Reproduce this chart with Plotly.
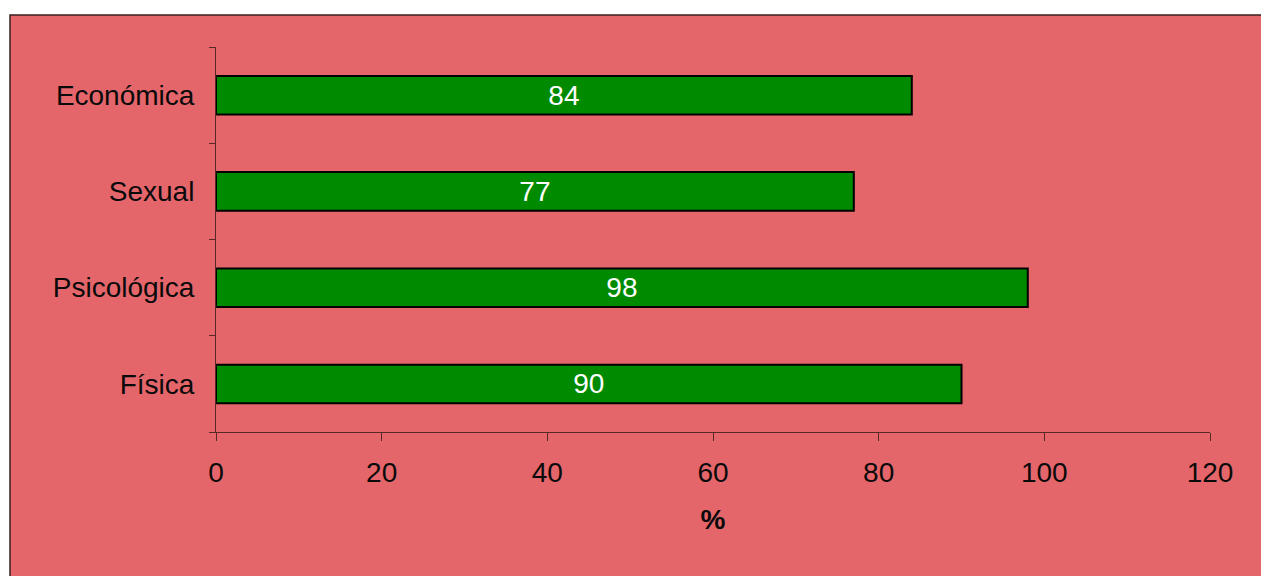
import plotly.graph_objects as go

# Porcentaje por tipo de violencia
categorias = ["Física", "Psicológica", "Sexual", "Económica"]
valores = [90, 98, 77, 84]
ticks_x = [0, 20, 40, 60, 80, 100, 120]

W, H = 1261, 576
L, R, T, B = 216, 51, 47, 144
pw, ph = W - L - R, H - T - B

fondo = "#E5666A"
eje = "#5A2626"
fuente = "Arial, Liberation Sans"
tam = 28

fig = go.Figure(
    go.Bar(
        x=valores,
        y=categorias,
        orientation="h",
        width=0.4,
        marker=dict(color="#008A00", line=dict(color="#000000", width=2)),
        text=[str(v) for v in valores],
        textposition="inside",
        insidetextanchor="middle",
        textfont=dict(family=fuente, size=tam, color="#FFFFFF"),
        hoverinfo="skip",
    )
)

# Marco rosado con borde oscuro en pixeles del lienzo
x0, y0 = 10, 15
fig.add_shape(
    type="rect",
    xref="paper", yref="paper",
    x0=(x0 - L) / pw, x1=(W + 5 - L) / pw,
    y0=-(B + 5) / ph, y1=(H - y0 - B) / ph,
    fillcolor=fondo,
    line=dict(color="#3A2020", width=1.5),
    layer="below",
)

fig.update_layout(
    width=W, height=H,
    margin=dict(l=L, r=R, t=T, b=B),
    paper_bgcolor="#FFFFFF",
    plot_bgcolor="rgba(0,0,0,0)",
    showlegend=False,
    font=dict(family=fuente, size=tam, color="#0A0A0A"),
    uniformtext=dict(minsize=tam, mode="show"),
    xaxis=dict(
        range=[0, 120],
        tickvals=ticks_x,
        tickfont=dict(size=tam),
        showgrid=False,
        zeroline=False,
        showline=True,
        linecolor=eje,
        linewidth=1,
        ticks="outside",
        ticklen=8,
        tickcolor=eje,
        ticklabelstandoff=7,
        title=dict(text="<b>%</b>", font=dict(size=tam), standoff=22),
    ),
    yaxis=dict(
        type="category",
        categoryorder="array",
        categoryarray=categorias,
        range=[-0.5, 3.5],
        tickfont=dict(size=tam),
        showgrid=False,
        showline=True,
        linecolor=eje,
        linewidth=1,
        ticks="outside",
        tickson="boundaries",
        ticklen=6,
        tickcolor=eje,
        ticklabelstandoff=15,
    ),
)

fig.write_html("out.html")
